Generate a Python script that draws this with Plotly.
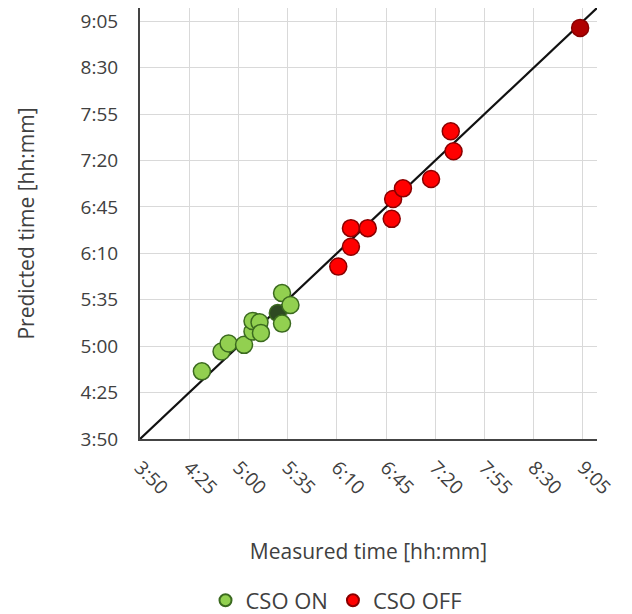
import plotly.graph_objects as go

# minutes after midnight
on_measured = [274, 288, 293, 304, 310, 310, 315, 316, 328, 331, 337, 331]
on_predicted = [281, 296, 302, 301, 311, 319, 318, 310, 325, 340, 331, 317]
on_colors = ["#92d050"] * 8 + ["#2e4a22"] + ["#92d050"] * 3

off_measured = [371, 380, 380, 392, 409, 410, 417, 437, 453, 451, 543]
off_predicted = [360, 375, 389, 389, 396, 411, 419, 426, 447, 462, 540]
off_colors = ["#ff0000"] * 10 + ["#b00000"]

tick_vals = [230, 265, 300, 335, 370, 405, 440, 475, 510, 545]
tick_text = ["3:50", "4:25", "5:00", "5:35", "6:10", "6:45", "7:20", "7:55", "8:30", "9:05"]
axis_min, axis_max = 230, 555

font = "Open Sans"
txt = "#404040"

fig = go.Figure()
fig.add_trace(go.Scatter(
    x=[axis_min, axis_max], y=[axis_min, axis_max], mode="lines",
    line=dict(color="#111111", width=2.2), showlegend=False, hoverinfo="skip"))
fig.add_trace(go.Scatter(
    x=on_measured, y=on_predicted, mode="markers", name="CSO ON",
    marker=dict(size=17, color=on_colors, line=dict(color="#3b6a1f", width=1.5))))
fig.add_trace(go.Scatter(
    x=off_measured, y=off_predicted, mode="markers", name="CSO OFF",
    marker=dict(size=17, color=off_colors, line=dict(color="#8a0000", width=1.5))))

axis_common = dict(
    range=[axis_min, axis_max], tickvals=tick_vals, ticktext=tick_text,
    showgrid=True, gridcolor="#d9d9d9", gridwidth=1, zeroline=False,
    showline=True, linecolor="#444444", linewidth=2, automargin=False,
    tickfont=dict(family=font, size=19, color=txt),
)
fig.update_xaxes(**axis_common, tickangle=45, ticklabelstandoff=8,
                 title=dict(text="Measured time [hh:mm]", font=dict(family=font, size=21, color=txt), standoff=45))
fig.update_yaxes(**axis_common, ticklabelstandoff=16,
                 title=dict(text="Predicted time [hh:mm]", font=dict(family=font, size=21, color=txt), standoff=40))

fig.update_layout(
    width=632, height=614,
    margin=dict(l=140, r=35, t=8, b=175),
    plot_bgcolor="white", paper_bgcolor="white",
    legend=dict(orientation="h", x=0.43, xanchor="center", yref="container", y=0.022, yanchor="middle",
                font=dict(family=font, size=22, color=txt), itemsizing="constant",
                itemwidth=30),
)
fig.write_html("out.html", config={"displayModeBar": False},
               post_script="document.body.style.margin='0';document.body.style.overflow='hidden';")
